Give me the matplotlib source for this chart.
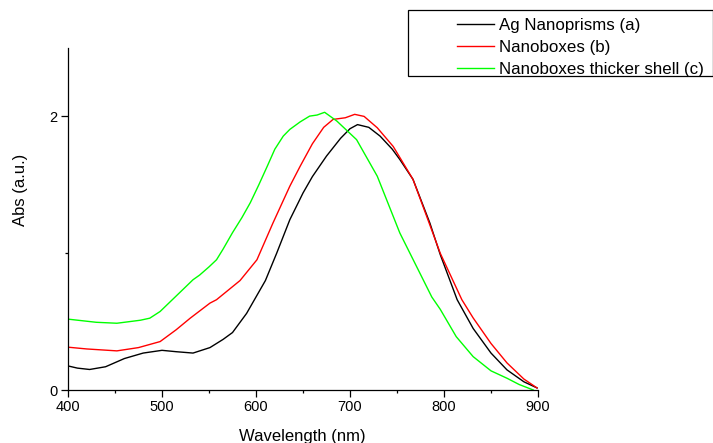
import matplotlib
matplotlib.use("Agg")
import matplotlib.pyplot as plt
from matplotlib.patches import Rectangle
from matplotlib.ticker import MultipleLocator

plt.rcParams['font.family'] = ['Liberation Sans', 'DejaVu Sans']

# Ag Nanoprisms (a)
wl_a = [400, 410, 423, 440, 460, 480, 500, 515, 533, 551, 565, 575, 590, 600, 610, 622,
        630, 636, 645, 650, 660, 675, 690, 700, 708, 720, 732, 745, 753, 767, 785, 796,
        814, 831, 850, 867, 885, 899]
abs_a = [0.176, 0.16, 0.15, 0.17, 0.23, 0.27, 0.29, 0.28, 0.27, 0.31, 0.37, 0.42, 0.56,
         0.68, 0.80, 1.0, 1.14, 1.245, 1.37, 1.44, 1.56, 1.71, 1.84, 1.91, 1.94, 1.92,
         1.856, 1.76, 1.685, 1.54, 1.22, 0.99, 0.66, 0.45, 0.27, 0.147, 0.06, 0.015]

# Nanoboxes (b)
wl_b = [400, 420, 452, 475, 498, 515, 530, 551, 558, 583, 601, 618, 636, 647, 660, 672,
        682, 695, 705, 715, 729, 746, 767, 781, 796, 819, 831, 850, 867, 885, 899]
abs_b = [0.313, 0.30, 0.286, 0.31, 0.354, 0.44, 0.525, 0.635, 0.66, 0.80, 0.952, 1.22,
         1.49, 1.636, 1.80, 1.92, 1.978, 1.99, 2.015, 2.0, 1.917, 1.78, 1.54, 1.28, 1.0,
         0.66, 0.527, 0.34, 0.198, 0.08, 0.015]

# Nanoboxes thicker shell (c)
wl_c = [400, 430, 452, 477, 487, 498, 522, 533, 540, 550, 558, 565, 575, 585, 594, 603,
        612, 620, 629, 636, 647, 657, 665, 673, 686, 707, 729, 753, 787, 796, 813, 831,
        850, 867, 880, 895]
abs_c = [0.518, 0.495, 0.488, 0.51, 0.525, 0.574, 0.733, 0.806, 0.84, 0.90, 0.952, 1.03,
         1.15, 1.26, 1.37, 1.50, 1.636, 1.76, 1.856, 1.905, 1.96, 2.002, 2.01, 2.03,
         1.966, 1.83, 1.563, 1.148, 0.68, 0.59, 0.39, 0.244, 0.14, 0.086, 0.04, 0.0]

labels = ['Ag Nanoprisms (a)', 'Nanoboxes (b)', 'Nanoboxes thicker shell (c)']
colors = ['#000000', '#ff0000', '#00ff00']

W, H = 713, 443
fig = plt.figure(figsize=(W / 100, H / 100), dpi=100)
ax = fig.add_axes([68 / W, (H - 390) / H, 470 / W, 342 / H])

for x, y, lab, c in zip([wl_a, wl_b, wl_c], [abs_a, abs_b, abs_c], labels, colors):
    ax.plot(x, y, color=c, lw=1.0, label=lab)

ax.set_xlim(400, 900)
ax.set_ylim(0, 2.5)
ax.spines['top'].set_visible(False)
ax.spines['right'].set_visible(False)
for s in ('left', 'bottom'):
    ax.spines[s].set_linewidth(0.9)
ax.xaxis.set_major_locator(MultipleLocator(100))
ax.xaxis.set_minor_locator(MultipleLocator(50))
ax.yaxis.set_major_locator(MultipleLocator(2))
ax.yaxis.set_minor_locator(MultipleLocator(1))
ax.tick_params(which='major', direction='out', length=5, width=0.9, labelsize=10.5, pad=2.5)
ax.tick_params(which='minor', direction='out', length=2.5, width=0.9)

ax.set_xlabel('Wavelength (nm)', fontsize=12)
ax.set_ylabel('Abs (a.u.)', fontsize=12)
ax.xaxis.set_label_coords(0.499, -0.115)
ax.yaxis.set_label_coords(-0.085, 0.585)

# legend frame
fig.patches.append(Rectangle((408 / W, (H - 76) / H), 305 / W, 66 / H,
                             transform=fig.transFigure, fill=False, edgecolor='black',
                             lw=0.9))
fig.legend(loc='upper left', bbox_to_anchor=(457 / W, (H - 18) / H), frameon=False,
           fontsize=12.2, handlelength=2.2, handletextpad=0.25, labelspacing=0.4,
           borderpad=0, borderaxespad=0)

fig.savefig('out.png', dpi=100)
